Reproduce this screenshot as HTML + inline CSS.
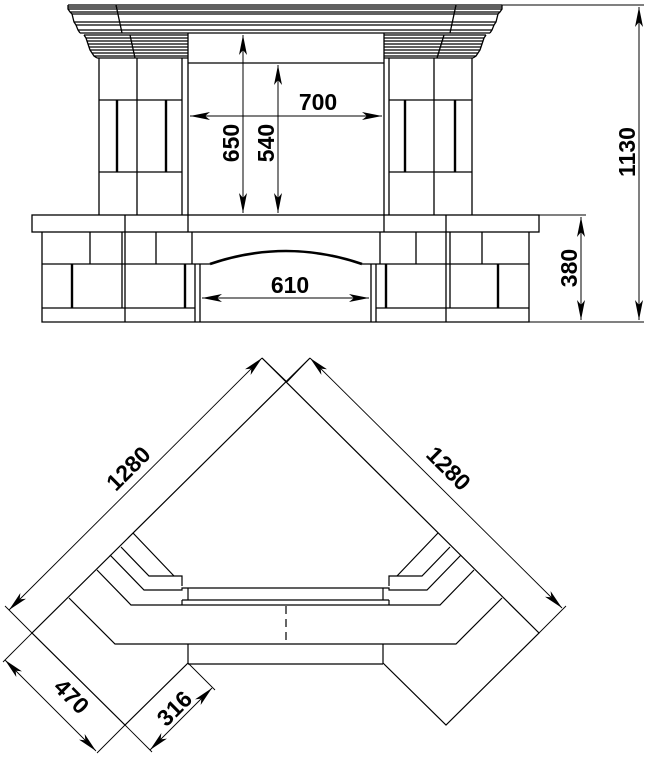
<!DOCTYPE html>
<html><head><meta charset="utf-8"><style>
html,body{margin:0;padding:0;background:#fff;}
svg{display:block;}
text{font-family:"Liberation Sans",Arial,sans-serif;font-weight:bold;font-size:23px;fill:#000;}
</style></head><body>
<svg width="648" height="768" viewBox="0 0 648 768" xmlns="http://www.w3.org/2000/svg">
<defs>
<marker id="a" viewBox="0 0 20 8" refX="20" refY="4" markerWidth="20" markerHeight="8" markerUnits="userSpaceOnUse" orient="auto-start-reverse"><path d="M0,0 L20,4 L0,8 L5,4 Z" fill="#000"/></marker>
</defs>
<g fill="none" stroke="#000" stroke-width="1.3">
<path d="M68,5 H502 M68,7 H502 M68,9 H502 M70,12 H500 M72,14 H498 M74,22 H496 M76,25 H494 M78,30 H492 M80,33 H490"/>
<path d="M68,5 V9 L70,12 L72,14 L74,22 L76,25 L78,30 L80,33"/>
<path d="M502,5 V9 L500,12 L498,14 L496,22 L494,25 L492,30 L490,33"/>
<path d="M116,5 L122,33 M456,5 L450,33"/>
<path d="M84,35 H188 M86,38 H188 M87,41 H188 M88,44 H188 M89,47 H188 M90,50 H188 M92,53 H188 M94,56 H188 M97,58 H188"/>
<path d="M84,35 L86,38 L87,41 L88,44 L89,47 L90,50 L92,53 L94,56 L97,58"/>
<path d="M384,35 H486 M384,38 H484 M384,41 H483 M384,44 H482 M384,47 H481 M384,50 H480 M384,53 H478 M384,56 H476 M384,58 H473"/>
<path d="M486,35 L484,38 L483,41 L482,44 L481,47 L480,50 L478,53 L476,56 L473,58"/>
<path d="M130,35 L135,58 M444,35 L437,58"/>
<path d="M188,33 V215 M384,33 V215 M188,63 H384"/>
<path d="M99,58 V215 M182,58 V215 M137,58 V215 M99,100 H182 M99,172 H182"/>
<path d="M117,100 V172 M166,100 V172" stroke-width="2.4"/>
<path d="M389,58 V215 M472,58 V215 M434,58 V215 M389,100 H472 M389,172 H472"/>
<path d="M405,100 V172 M455,100 V172" stroke-width="2.4"/>
<rect x="32" y="215" width="507" height="17"/>
<path d="M125,215 V232 M188,215 V232 M384,215 V232 M446,215 V232"/>
<path d="M42,232 V322 H195 M42,264 H195 M42,308 H195 M192,232 V264 M122,232 V308 M125,232 V322 M90,232 V264 M156,232 V264"/>
<path d="M72,264 V308 M185,264 V308" stroke-width="2.4"/>
<path d="M195,264 V322 M200,264 V322 M195,264 H210 M362,264 H376"/>
<path d="M210,264 Q286,238 362,264" stroke-width="2.6"/>
<path d="M371,264 V322 M376,264 V322"/>
<path d="M529,232 V322 H376 M380,232 V264 M376,264 H529 M376,308 H529 M446,232 V322 M450,232 V308 M416,232 V264 M482,232 V264"/>
<path d="M386,264 V308 M498,264 V308" stroke-width="2.4"/>
<path d="M195,322 H376"/>
</g>
<g fill="none" stroke="#000" stroke-width="1">
<line x1="190" y1="116" x2="382" y2="116" marker-start="url(#a)" marker-end="url(#a)"/>
<line x1="243" y1="35" x2="243" y2="213" marker-start="url(#a)" marker-end="url(#a)"/>
<line x1="278" y1="65" x2="278" y2="213" marker-start="url(#a)" marker-end="url(#a)"/>
<line x1="202" y1="298" x2="369" y2="298" marker-start="url(#a)" marker-end="url(#a)"/>
<line x1="539" y1="215" x2="586" y2="215"/>
<line x1="581" y1="217" x2="581" y2="320" marker-start="url(#a)" marker-end="url(#a)"/>
<line x1="502" y1="5" x2="644" y2="5"/>
<line x1="529" y1="322" x2="644" y2="322"/>
<line x1="639" y1="7" x2="639" y2="320" marker-start="url(#a)" marker-end="url(#a)"/>
</g>
<text x="318" y="110" text-anchor="middle">700</text>
<text x="290" y="293" text-anchor="middle">610</text>
<text transform="translate(239,143) rotate(-90)" text-anchor="middle">650</text>
<text transform="translate(274,143) rotate(-90)" text-anchor="middle">540</text>
<text transform="translate(577,268) rotate(-90)" text-anchor="middle">380</text>
<text transform="translate(635,152) rotate(-90)" text-anchor="middle">1130</text>
<g fill="none" stroke="#000" stroke-width="1.2">
<path d="M310,358 L32,633 L125,725 L188,663 V644 M262,358 L539,633 L446,725 L383,663 V644"/>
<path d="M188,664 H383"/>
<path d="M69,598 L115,644 H456 L502,598"/>
<path d="M97,570 L131,605 H440 L474,570"/>
<path d="M182,600 H389 M182,600 V605 M389,600 V605"/>
<path d="M110,555 L144,590 H182 V588 H188 V600 M461,555 L427,590 H389 V588 H383 V600 M188,588 H383"/>
<path d="M121,547 L149,576 H182 V586 M450,547 L422,576 H389 V586"/>
<path d="M133,533 L174,576 M438,533 L397,576"/>
<path d="M286,606 V644" stroke-dasharray="8,5"/>
</g>
<g fill="none" stroke="#000" stroke-width="0.9">
<line x1="262" y1="358" x2="287" y2="382"/>
<line x1="310" y1="358" x2="287" y2="382"/>
<line x1="262" y1="358" x2="9" y2="610" marker-start="url(#a)" marker-end="url(#a)"/>
<line x1="310" y1="358" x2="562" y2="608" marker-start="url(#a)" marker-end="url(#a)"/>
<line x1="32" y1="633" x2="5" y2="606"/>
<line x1="539" y1="633" x2="566" y2="606"/>
<line x1="32" y1="633" x2="3" y2="662"/>
<line x1="125" y1="725" x2="97" y2="753"/>
<line x1="125" y1="725" x2="152" y2="752"/>
<line x1="188" y1="663" x2="215" y2="690"/>
<line x1="5" y1="660" x2="96" y2="751" marker-start="url(#a)" marker-end="url(#a)"/>
<line x1="212" y1="688" x2="150" y2="750" marker-start="url(#a)" marker-end="url(#a)"/>
</g>
<text transform="translate(134,474) rotate(-45)" text-anchor="middle">1280</text>
<text transform="translate(443,474) rotate(45)" text-anchor="middle">1280</text>
<text transform="translate(66,702) rotate(45)" text-anchor="middle">470</text>
<text transform="translate(180,714) rotate(-45)" text-anchor="middle">316</text>
</svg>
</body></html>
